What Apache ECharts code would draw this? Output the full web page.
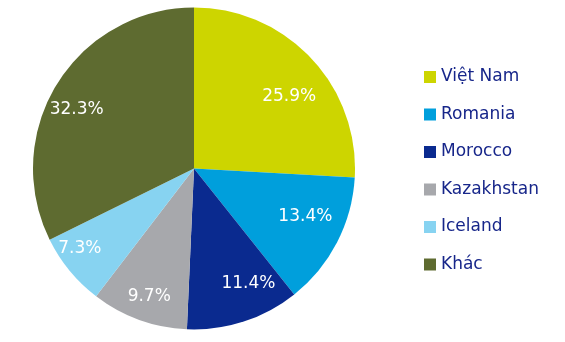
<!DOCTYPE html>
<html><head><meta charset="utf-8">
<script src="https://cdn.jsdelivr.net/npm/echarts@6/dist/echarts.min.js"></script>
<style>html,body{margin:0;padding:0;background:#fff}#c{width:565px;height:342px}</style>
</head><body><div id="c"></div>
<script>
const categories = ['Việt Nam', 'Romania', 'Morocco', 'Kazakhstan', 'Iceland', 'Khác'];
const values = [25.9, 13.4, 11.4, 9.7, 7.3, 32.3];
const colors = ['#CDD500', '#009FDC', '#0A2A8F', '#A7A8AC', '#87D3F1', '#5E6B30'];

const labelNudge = [[0, 18], [-5, -12], [14, -10], [0, 5], [-13, -3], [-6, 10]];
const data = categories.map((n, i) => ({ name: n, value: values[i], itemStyle: { color: colors[i] } }));
const chart = echarts.init(document.getElementById('c'), null, { renderer: 'canvas' });
const font = '"DejaVu Sans", sans-serif';
chart.setOption({
  animation: false,
  legend: {
    orient: 'vertical', left: 424, top: 68.5, padding: 0,
    itemWidth: 12, itemHeight: 12, itemGap: 20.5, itemTextGap: 5,
    icon: 'rect',
    data: categories,
    textStyle: { color: '#17268A', fontSize: 17, fontFamily: font }
  },
  series: [
    {
      type: 'pie', center: [194, 168.5], radius: [0, 161], startAngle: 90,
      data: data, label: { show: false }, labelLine: { show: false }, silent: true
    },
    {
      type: 'pie', center: [194, 168.5], radius: [98, 158], startAngle: 90,
      data: categories.map((n, i) => ({ name: n, value: values[i], itemStyle: { color: 'rgba(0,0,0,0)' },
        label: { offset: labelNudge[i] } })),
      silent: true, legendHoverLink: false,
      label: { show: true, position: 'inside', color: '#fff', fontSize: 17, fontFamily: font,
        formatter: p => p.value.toFixed(1) + '%' },
      labelLine: { show: false }
    }
  ]
});
</script></body></html>
